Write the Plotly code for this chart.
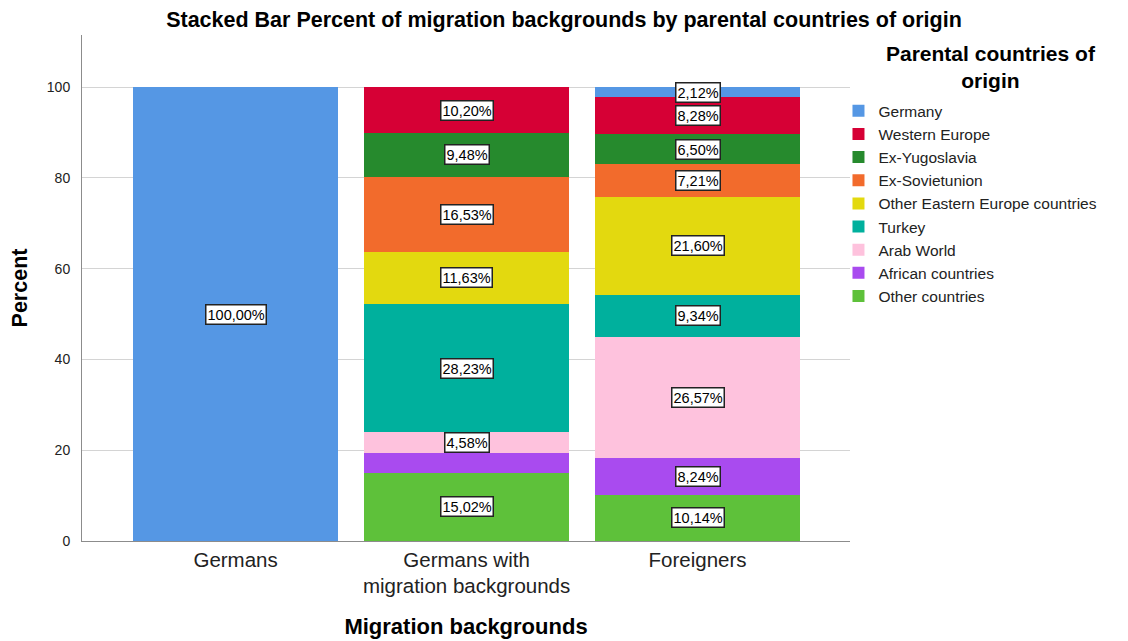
import plotly.graph_objects as go

categories = ["Germans", "Germans with<br>migration backgrounds", "Foreigners"]

# values per parental country of origin (percent), in order: Germans, Germans w/ migr., Foreigners
other_countries = [0, 15.02, 10.14]
african_countries = [0, 4.33, 8.24]
arab_world = [0, 4.58, 26.57]
turkey = [0, 28.23, 9.34]
other_eastern_europe = [0, 11.63, 21.60]
ex_sovietunion = [0, 16.53, 7.21]
ex_yugoslavia = [0, 9.48, 6.50]
western_europe = [0, 10.20, 8.28]
germany = [100.0, 0, 2.12]

# bottom-to-top stacking order
series = [
    ("Other countries", other_countries, "#5EC13A"),
    ("African countries", african_countries, "#A94BEF"),
    ("Arab World", arab_world, "#FEC2DD"),
    ("Turkey", turkey, "#00B09D"),
    ("Other Eastern Europe countries", other_eastern_europe, "#E3D90F"),
    ("Ex-Sovietunion", ex_sovietunion, "#F26B2C"),
    ("Ex-Yugoslavia", ex_yugoslavia, "#268A2D"),
    ("Western Europe", western_europe, "#D60035"),
    ("Germany", germany, "#5597E4"),
]

# segments whose value label is not displayed in the original
hidden_labels = {("African countries", 1)}

FONT = "Liberation Sans, Arial, sans-serif"

fig = go.Figure()
for name, vals, color in series:
    fig.add_trace(go.Bar(
        name=name, x=categories, y=vals, marker=dict(color=color, line=dict(width=0)),
        width=0.89, hoverinfo="skip",
    ))

annotations = []
base = [0.0] * len(categories)
for name, vals, color in series:
    for i, v in enumerate(vals):
        if v > 0 and (name, i) not in hidden_labels:
            annotations.append(dict(
                x=categories[i], y=base[i] + v / 2, xref="x", yref="y",
                text=("%.2f%%" % v).replace(".", ","), showarrow=False,
                font=dict(family=FONT, size=14.5, color="#000"),
                bgcolor="#FFFFFF", bordercolor="#222222", borderwidth=1.5, borderpad=1,
            ))
        base[i] += v

# legend title (two centred lines)
annotations.append(dict(
    x=1.1833, y=0.9358, xref="paper", yref="paper", xanchor="center", yanchor="middle",
    text="<b>Parental countries of<br>origin</b>", showarrow=False, align="center",
    font=dict(family=FONT, size=21, color="#000"),
))

fig.update_layout(
    barmode="stack",
    width=1120, height=633,
    paper_bgcolor="white", plot_bgcolor="white",
    margin=dict(l=74, r=278, t=27, b=100),
    font=dict(family=FONT, color="#000"),
    title=dict(
        text="<b>Stacked Bar Percent of migration backgrounds by parental countries of origin</b>",
        x=0.4964, xanchor="center", y=0.9826, yanchor="middle",
        font=dict(family=FONT, size=21.5, color="#000"),
    ),
    xaxis=dict(
        range=[-0.665, 2.66], showgrid=False, showline=True, linecolor="#8c8c8c", linewidth=1,
        ticks="", tickfont=dict(family=FONT, size=20.5, color="#222"),
        automargin=False,
        title=dict(text="<b>Migration backgrounds</b>", font=dict(family=FONT, size=22, color="#000"), standoff=22),
    ),
    yaxis=dict(
        range=[0, 111.5], tickvals=[0, 20, 40, 60, 80, 100], showgrid=True, gridcolor="#d4d4d4",
        gridwidth=1, zeroline=False, showline=True, linecolor="#8c8c8c", linewidth=1,
        ticks="", ticklabelstandoff=8, tickfont=dict(family=FONT, size=14, color="#222"),
        automargin=False,
        title=dict(text="<b>Percent</b>", font=dict(family=FONT, size=21.5, color="#000"), standoff=28),
    ),
    legend=dict(
        x=0.985, xanchor="left", y=0.883, yanchor="top", traceorder="reversed",
        bgcolor="rgba(0,0,0,0)",
        font=dict(family=FONT, size=15.5, color="#222"),
        itemwidth=30, tracegroupgap=0,
    ),
    annotations=annotations,
)

fig.write_html("out.html")
